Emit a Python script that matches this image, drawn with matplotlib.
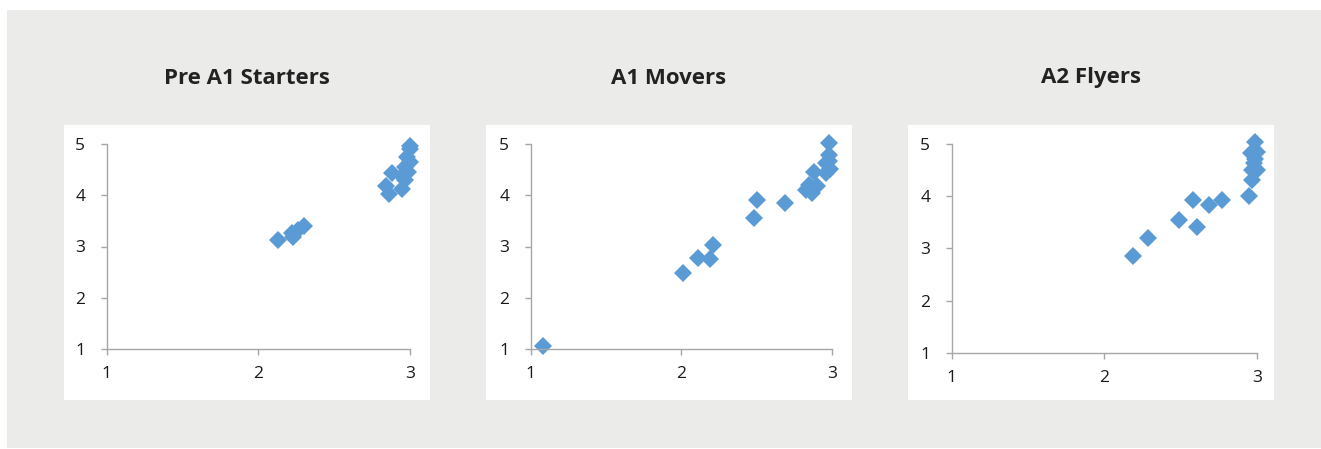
import numpy as np
import matplotlib.pyplot as plt
from matplotlib.patches import Rectangle

titles = ["Pre A1 Starters", "A1 Movers", "A2 Flyers"]

# Pre A1 Starters
x_starters = [2.13, 2.22, 2.23, 2.26, 2.30, 2.84, 2.86, 2.88, 2.95,
              2.95, 2.97, 2.97, 2.99, 2.98, 3.00, 3.00, 3.00]
y_starters = [3.12, 3.26, 3.19, 3.32, 3.40, 4.18, 4.02, 4.44, 4.13,
              4.38, 4.30, 4.55, 4.45, 4.75, 4.65, 4.90, 4.97]

# A1 Movers
x_movers = [1.08, 2.01, 2.11, 2.19, 2.21, 2.48, 2.50, 2.69, 2.83, 2.85,
            2.87, 2.90, 2.88, 2.96, 2.99, 2.98, 2.98, 2.98, 2.96]
y_movers = [1.05, 2.48, 2.77, 2.75, 3.03, 3.55, 3.91, 3.84, 4.10, 4.20,
            4.04, 4.19, 4.46, 4.43, 4.52, 4.66, 4.79, 5.01, 4.62]

# A2 Flyers
x_flyers = [2.19, 2.29, 2.49, 2.58, 2.61, 2.69, 2.77, 2.95, 2.97,
            2.99, 2.96, 2.98, 3.00, 3.00, 2.97, 2.99]
y_flyers = [2.85, 3.19, 3.54, 3.93, 3.40, 3.83, 3.93, 4.00, 4.31,
            5.04, 4.82, 4.63, 4.50, 4.85, 4.50, 4.72]

xs = [x_starters, x_movers, x_flyers]
ys = [y_starters, y_movers, y_flyers]

W, H = 1321, 449
fig = plt.figure(figsize=(W / 100, H / 100), dpi=100)

def fbox(x0, y0, x1, y1):
    # pixel box (top-left origin) -> figure fraction
    return x0 / W, 1 - y1 / H, (x1 - x0) / W, (y1 - y0) / H

# grey background
bx, by, bw, bh = fbox(7, 10, W, 448)
fig.patches.append(Rectangle((bx, by), bw, bh, transform=fig.transFigure,
                             facecolor="#EBEBE9", edgecolor="none", zorder=-2))

panels = [(64, 125, 430, 400), (486, 125, 852, 400), (908, 125, 1274, 400)]
axes_px = [(106.7, 144, 410, 349), (530.7, 144, 832, 349), (951.7, 144, 1256.7, 352.7)]

for i in range(3):
    px0, py0, px1, py1 = panels[i]
    rx, ry, rw, rh = fbox(px0, py0, px1, py1)
    fig.patches.append(Rectangle((rx, ry), rw, rh, transform=fig.transFigure,
                                 facecolor="white", edgecolor="none", zorder=-1))
    fig.text((px0 + px1) / 2 / W, 1 - 78 / H, titles[i], ha="center", va="center",
             fontsize=16, fontweight="bold", family="Open Sans", color="#222222")

    ax = fig.add_axes(fbox(*axes_px[i]))
    ax.patch.set_visible(False)
    ax.plot(xs[i], ys[i], linestyle="none", marker="D", markersize=9,
            color="#5B9BD5", markeredgewidth=0, clip_on=False)
    ax.set_xlim(1, 3)
    ax.set_ylim(1, 5)
    ax.set_xticks([1, 2, 3])
    ax.set_yticks([1, 2, 3, 4, 5])
    for s in ["top", "right"]:
        ax.spines[s].set_visible(False)
    for s in ["left", "bottom"]:
        ax.spines[s].set_color("#A6A6A6")
        ax.spines[s].set_linewidth(1.0)
    ax.tick_params(axis="both", direction="out", length=4.5, width=1.0,
                   color="#A6A6A6", labelsize=12.5, labelcolor="#1A1A1A")
    ax.tick_params(axis="y", pad=11)
    ax.tick_params(axis="x", pad=8)
    for lab in ax.get_xticklabels() + ax.get_yticklabels():
        lab.set_family("Open Sans")

fig.savefig("out.png", dpi=100)
